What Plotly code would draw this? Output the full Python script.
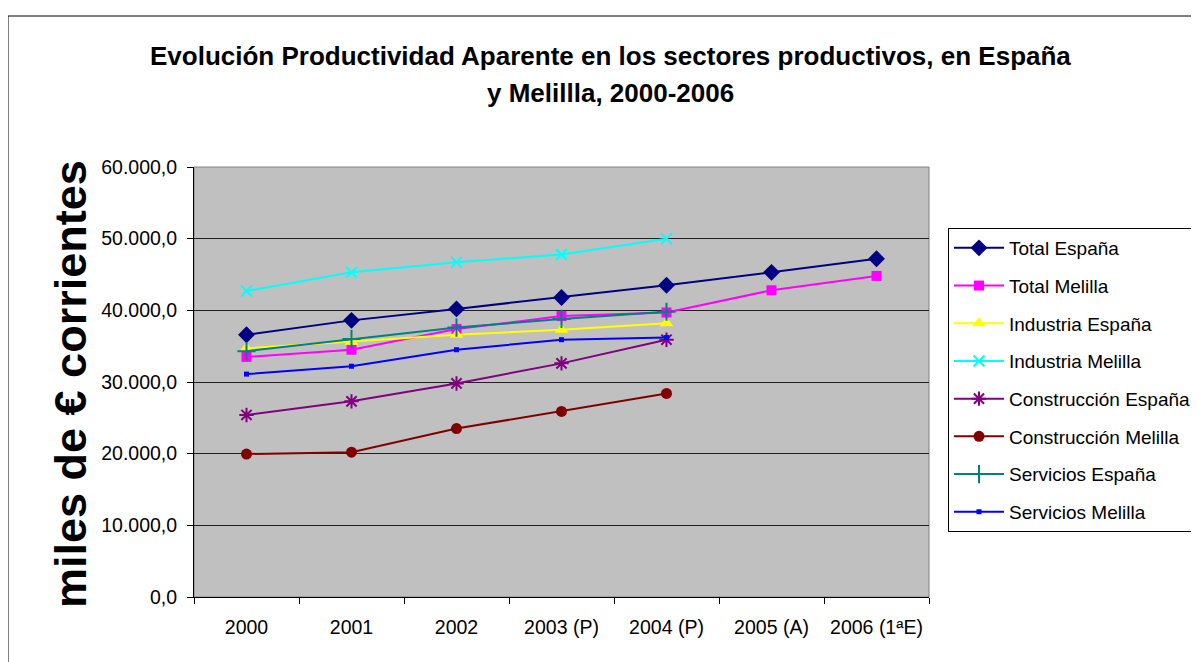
import plotly.graph_objects as go

categories = ["2000", "2001", "2002", "2003 (P)", "2004 (P)", "2005 (A)", "2006 (1ªE)"]

total_espana = [36600, 38600, 40200, 41800, 43500, 45300, 47200]
total_melilla = [33500, 34500, 37400, 39200, 39700, 42800, 44800]
industria_espana = [34700, 35600, 36600, 37300, 38200, None, None]
industria_melilla = [42700, 45300, 46700, 47800, 50000, None, None]
construccion_espana = [25400, 27300, 29800, 32600, 35900, None, None]
construccion_melilla = [19950, 20200, 23500, 25900, 28400, None, None]
servicios_espana = [34300, 36000, 37600, 38800, 39800, None, None]
servicios_melilla = [31100, 32200, 34500, 35900, 36200, None, None]

series = [
    ("Total España", total_espana, "#000080", "diamond", 13, 0),
    ("Total Melilla", total_melilla, "#FF00FF", "square", 10, 0),
    ("Industria España", industria_espana, "#FFFF00", "triangle-up", 12, 0),
    ("Industria Melilla", industria_melilla, "#00FFFF", "x-thin", 11, 2),
    ("Construcción España", construccion_espana, "#800080", "asterisk", 12, 2),
    ("Construcción Melilla", construccion_melilla, "#800000", "circle", 11, 0),
    ("Servicios España", servicios_espana, "#008080", "cross-thin", 13, 2),
    ("Servicios Melilla", servicios_melilla, "#0000FF", "square", 5, 0),
]

fig = go.Figure()
for name, vals, color, sym, size, lw in series:
    fig.add_trace(go.Scatter(
        x=categories, y=vals, name=name, mode="lines+markers",
        line=dict(color=color, width=2),
        marker=dict(symbol=sym, size=size, color=color,
                    line=dict(color=color, width=lw)),
        legendgroup=name, connectgaps=False,
    ))

# page is offset by the 8px body margin
OFF = 8
W, H = 1199 - OFF, 662 - OFF
L, T = 194 - OFF, 167 - OFF
R = W - (929 - OFF)
B = H - (597 - OFF)
pw = W - L - R
ph = H - T - B

def px_x(p):
    return (p - OFF - L) / pw

def px_y(p):
    return (H - B - (p - OFF)) / ph

FONT = "Liberation Sans, Arial, sans-serif"

fig.update_layout(
    width=W, height=H,
    margin=dict(l=L, r=R, t=T, b=B, autoexpand=False),
    paper_bgcolor="white",
    plot_bgcolor="#C0C0C0",
    separators=",.",
    font=dict(family=FONT, color="black", size=19.5),
    showlegend=True,
    legend=dict(
        x=px_x(948), xanchor="left", y=px_y(228), yanchor="top",
        bgcolor="white", bordercolor="black", borderwidth=1,
        font=dict(size=19), tracegroupgap=10, itemwidth=50,
    ),
    xaxis=dict(
        type="category", categoryorder="array", categoryarray=categories,
        range=[-0.5, 6.5], showgrid=False, zeroline=False,
        showline=True, linecolor="black", linewidth=1,
        ticks="outside", tickson="boundaries", ticklen=6, tickcolor="black",
        tickfont=dict(size=19.5), ticklabelstandoff=13,
    ),
    yaxis=dict(
        range=[0, 60000], dtick=10000, tickformat=",.1f",
        showgrid=True, gridcolor="#202020", gridwidth=1, zeroline=False,
        showline=True, linecolor="black", linewidth=1,
        ticks="outside", ticklen=6, tickcolor="black",
        tickfont=dict(size=19.5), ticklabelstandoff=6,
    ),
    shapes=[
        dict(type="rect", xref="paper", yref="paper", x0=0, x1=1, y0=0, y1=1,
             line=dict(color="#808080", width=1), layer="below"),
        dict(type="rect", xref="paper", yref="paper",
             x0=px_x(8), x1=px_x(1215), y0=px_y(690), y1=px_y(16),
             line=dict(color="black", width=1), fillcolor="rgba(0,0,0,0)", layer="below"),
    ],
    annotations=[
        dict(text="<b>Evolución Productividad Aparente en los sectores productivos, en España</b>",
             xref="paper", yref="paper", x=px_x(610), y=px_y(56),
             xanchor="center", yanchor="middle", showarrow=False,
             font=dict(size=26, family=FONT)),
        dict(text="<b>y Melillla, 2000-2006</b>",
             xref="paper", yref="paper", x=px_x(610), y=px_y(93),
             xanchor="center", yanchor="middle", showarrow=False,
             font=dict(size=26, family=FONT)),
        dict(text="<b>miles de € corrientes</b>", textangle=-90,
             xref="paper", yref="paper", x=px_x(70), y=px_y(384),
             xanchor="center", yanchor="middle", showarrow=False,
             font=dict(size=45, family=FONT)),
    ],
)

fig.write_html("out.html")
